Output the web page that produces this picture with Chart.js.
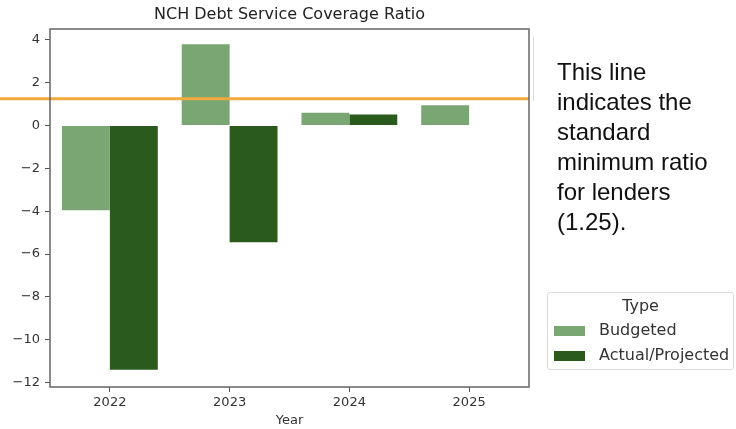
<!DOCTYPE html>
<html lang="en">
<head>
    <meta charset="UTF-8">
    <title>NCH Debt Service Coverage Ratio</title>
    <script src="https://cdn.jsdelivr.net/npm/chart.js"></script>
    <style>
        body { margin: 0; background: #fff; font-family: "DejaVu Sans", sans-serif; }
        #wrap { position: relative; width: 736px; height: 429px; overflow: hidden; }
        #note {
            position: absolute; left: 557px; top: 57px;
            font-family: "Liberation Sans", Arial, sans-serif;
            font-size: 24px; line-height: 30px; color: #111;
        }
        #legend {
            position: absolute; left: 547px; top: 292px; width: 187px; height: 78px;
            border: 1px solid #dcdcdc; border-radius: 3px; box-sizing: border-box;
            font-size: 16px; color: #333;
        }
        #legend .ttl { position: absolute; left: 0; right: 0; top: 3px; text-align: center; }
        #legend .item { position: absolute; left: 6px; height: 20px; line-height: 20px; white-space: nowrap; }
        #legend .sw { display: inline-block; width: 31px; height: 10px; vertical-align: middle; margin-right: 14px; }
        .artifact { position: absolute; left: 533px; width: 1px; background: #d8d8d8; }
    </style>
</head>
<body>
<div id="wrap">
    <canvas id="dscrChart" width="736" height="429"></canvas>
    <div class="artifact" style="top:37px;height:64px"></div>
    <div id="note">This line<br>indicates the<br>standard<br>minimum ratio<br>for lenders<br>(1.25).</div>
    <div id="legend"></div>
</div>

<script>
    const years = ['2022', '2023', '2024', '2025'];
    const budgeted = [-3.95, 3.8, 0.6, 0.95];
    const actual = [-11.4, -5.45, 0.52, null];
    const yTicks = [-12, -10, -8, -6, -4, -2, 0, 2, 4];
    const minRatio = 1.25;

    const budgetColor = '#79a672';
    const actualColor = '#2b5a1d';

    // legend (seaborn style, outside the axes)
    const legend = document.getElementById('legend');
    legend.innerHTML = '<div class="ttl">Type</div>' +
        [['Budgeted', budgetColor], ['Actual/Projected', actualColor]].map((it, i) =>
            `<div class="item" style="top:${27 + i * 25}px"><span class="sw" style="background:${it[1]}"></span>${it[0]}</div>`
        ).join('');

    const frame = {
        id: 'frame',
        afterDatasetsDraw(chart) {
            const { ctx, chartArea: a, scales } = chart;
            const y = scales.y.getPixelForValue(minRatio);
            ctx.save();
            ctx.strokeStyle = '#f2a93e';
            ctx.lineWidth = 3;
            ctx.beginPath();
            ctx.moveTo(0, y);
            ctx.lineTo(a.right, y);
            ctx.stroke();
            ctx.strokeStyle = '#666';
            ctx.lineWidth = 1.5;
            ctx.strokeRect(a.left, a.top, a.right - a.left, a.bottom - a.top);
            ctx.fillStyle = '#222';
            ctx.font = '16px "DejaVu Sans"';
            ctx.textAlign = 'center';
            ctx.textBaseline = 'middle';
            ctx.fillText('NCH Debt Service Coverage Ratio', (a.left + a.right) / 2, 15);
            ctx.restore();
        }
    };

    new Chart(document.getElementById('dscrChart'), {
        type: 'bar',
        data: {
            labels: years,
            datasets: [
                { label: 'Budgeted', data: budgeted, backgroundColor: budgetColor,
                  categoryPercentage: 0.8, barPercentage: 1 },
                { label: 'Actual/Projected', data: actual, backgroundColor: actualColor,
                  categoryPercentage: 0.8, barPercentage: 1 }
            ]
        },
        options: {
            responsive: false,
            animation: false,
            layout: { padding: { left: 0, right: 207, top: 29, bottom: 0 } },
            plugins: { legend: { display: false }, title: { display: false }, tooltip: { enabled: false } },
            scales: {
                x: {
                    afterFit: s => { s.height = 42; },
                    grid: { offset: false, drawOnChartArea: false, tickLength: 5, color: '#555' },
                    border: { display: false },
                    ticks: { color: '#333', padding: 3, font: { family: 'DejaVu Sans', size: 13 } },
                    title: { display: true, text: 'Year', color: '#333', padding: { top: 0, bottom: 1 },
                             font: { family: 'DejaVu Sans', size: 13 } }
                },
                y: {
                    min: -12.21,
                    max: 4.51,
                    afterFit: s => { s.width = 50; },
                    afterBuildTicks: s => { s.ticks = yTicks.map(v => ({ value: v })); },
                    grid: { drawOnChartArea: false, tickLength: 5, color: '#555' },
                    border: { display: false },
                    ticks: { color: '#333', padding: 5, font: { family: 'DejaVu Sans', size: 13 },
                             callback: v => String(v).replace('-', '\u2212') }
                }
            }
        },
        plugins: [frame]
    });
</script>
</body>
</html>
